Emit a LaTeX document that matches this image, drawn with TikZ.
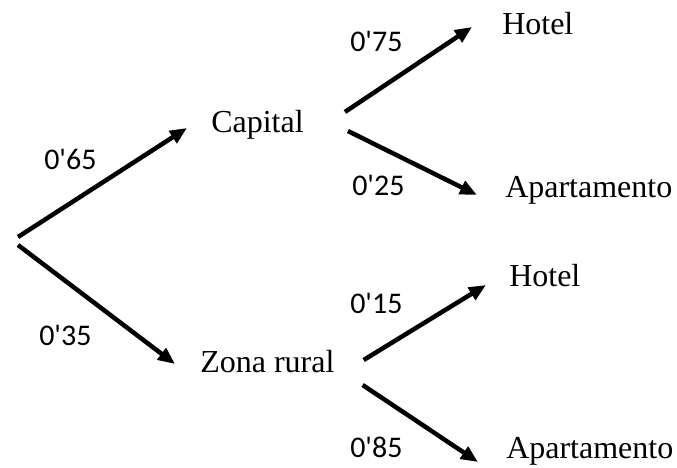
\documentclass[tikz,border=0pt]{standalone}
\usepackage{fontspec}
\setmainfont{Liberation Serif}
\newfontfamily\numfont{Carlito}
\usetikzlibrary{arrows.meta}

\begin{document}
\begin{tikzpicture}[x=1pt, y=-1pt, line width=4.5pt,
    txt/.style={inner sep=0pt, anchor=base west, font=\fontsize{32}{38}\selectfont},
    prob/.style={inner sep=0pt, anchor=base west, font=\numfont\fontsize{30}{36}\selectfont},
    arr/.style={-{Triangle[length=17pt, width=14pt]}}]
    \useasboundingbox (0,0) rectangle (677,468);
    % Root
    \coordinate (root) at (18,241);
    % First level
    \node[txt] (cap)  at (209,132) {Capital};
    \node[txt] (zona) at (198,372) {Zona rural};
    % Second level
    \node[txt] (hotA) at (500,35)  {Hotel};
    \node[txt] (aptA) at (503,197) {Apartamento};
    \node[txt] (hotB) at (507,286) {Hotel};
    \node[txt] (aptB) at (504,458) {Apartamento};
    % Branches
    \draw[arr] ([shift={(0,-4)}]root) -- ([shift={(-22,-4)}]cap.base west);
    \draw[arr] ([shift={(0,4)}]root)  -- ([shift={(-23,-8)}]zona.base west);
    \draw[arr] ([shift={(39,-20)}]cap.base east) -- ([shift={(-28,-8)}]hotA.base west);
    \draw[arr] ([shift={(42,-1)}]cap.base east)  -- ([shift={(-26,-2)}]aptA.base west);
    \draw[arr] ([shift={(27,-12)}]zona.base east) -- ([shift={(-21,-1)}]hotB.base west);
    \draw[arr] ([shift={(26,13)}]zona.base east)  -- ([shift={(-26,4)}]aptB.base west);
    % Probabilities
    \node[prob] (p1) at (42,169)  {0'65};
    \node[prob] (p2) at (37,345)  {0'35};
    \node[prob] (p3) at (348,52)  {0'75};
    \node[prob] (p4) at (350,195) {0'25};
    \node[prob] (p5) at (348,313) {0'15};
    \node[prob] (p6) at (348,457) {0'85};
\end{tikzpicture}
\end{document}
